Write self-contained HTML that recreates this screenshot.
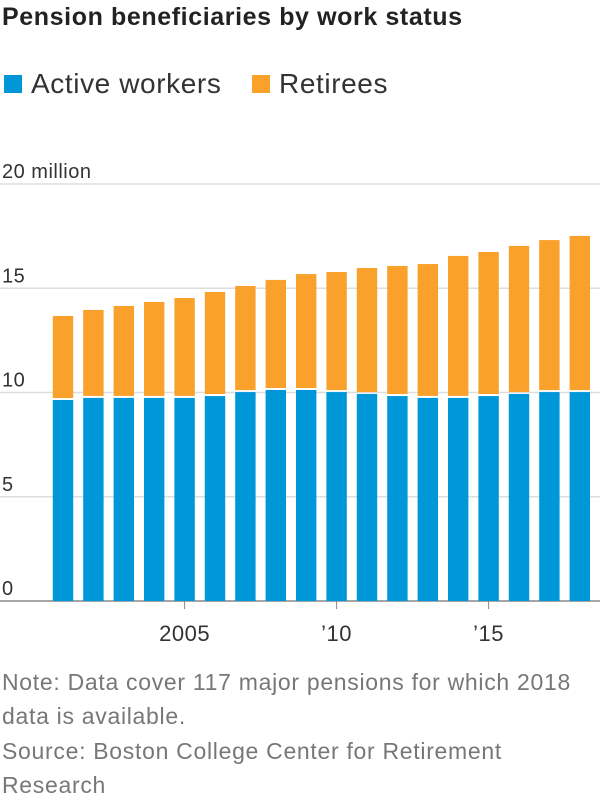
<!DOCTYPE html>
<html><head><meta charset="utf-8">
<style>
body{margin:0;width:600px;height:800px;background:#fff;font-family:"Liberation Sans",sans-serif;overflow:hidden}
.t{position:absolute;left:2px;top:3px;font-size:25px;font-weight:bold;color:#222;letter-spacing:0.6px}
.lg{position:absolute;top:68px;font-size:28px;color:#333;display:flex;align-items:center;letter-spacing:0.6px}
.sw{width:18px;height:18px;display:inline-block;margin-right:9px}
.note{position:absolute;left:2px;font-size:23px;color:#777;line-height:34px;letter-spacing:0.7px}
</style></head><body>
<div class="t">Pension beneficiaries by work status</div>
<div class="lg" style="left:4px"><span class="sw" style="background:#0097d9"></span>Active workers</div>
<div class="lg" style="left:252px"><span class="sw" style="background:#f9a12b"></span>Retirees</div>
<svg id="c" width="600" height="650" style="position:absolute;left:0;top:0"></svg>
<div class="note" style="top:665px">Note: Data cover 117 major pensions for which 2018<br>data is available.</div>
<div class="note" style="top:734px">Source: Boston College Center for Retirement<br>Research</div>
<script>
const years=[2001,2002,2003,2004,2005,2006,2007,2008,2009,2010,2011,2012,2013,2014,2015,2016,2017,2018];
const active=[9.64,9.74,9.74,9.74,9.74,9.83,10.02,10.12,10.12,10.02,9.93,9.83,9.74,9.74,9.83,9.93,10.02,10.02];
const total=[13.67,13.96,14.15,14.34,14.53,14.82,15.11,15.40,15.68,15.78,15.97,16.07,16.16,16.55,16.74,17.03,17.31,17.51];
const yTicks=[0,5,10,15,20];
const yTickLabels=['0','5','10','15','20 million'];
const xTicks=[2005,2010,2015];
const xTickLabels=['2005','\u201910','\u201915'];
const svg=document.getElementById('c');const NS='http://www.w3.org/2000/svg';
const y=v=>601-v*20.85;
const x=yr=>63+(yr-2001)*30.4;
function mk(t,a){const e=document.createElementNS(NS,t);for(const k in a)e.setAttribute(k,a[k]);svg.appendChild(e);return e;}
yTicks.forEach((v,i)=>{
  const l=mk('line',{x1:0,x2:600,y1:y(v),y2:y(v),stroke:v===0?'#888':'#ddd','stroke-width':1.5});
  
  
  const t=mk('text',{x:2,y:y(v)-6,'font-size':20,fill:'#333','letter-spacing':0.5,'font-family':'Liberation Sans, sans-serif'});
  t.textContent=yTickLabels[i];
  
  
});
years.forEach((yr,i)=>{
  const b=mk('rect',{x:x(yr)-10.2,width:20.4,y:y(active[i]),height:y(0)-y(active[i]),fill:'#0097d9'});
  
  
  const r=mk('rect',{x:x(yr)-10.2,width:20.4,y:y(total[i]),height:y(active[i])-y(total[i])-2,fill:'#f9a12b'});
  
  
});
xTicks.forEach((yr,i)=>{
  const tk=mk('line',{x1:x(yr),x2:x(yr),y1:y(0),y2:y(0)+8,stroke:'#888','stroke-width':1});
  
  
  const t=mk('text',{x:x(yr),y:641,'font-size':22,fill:'#333','text-anchor':'middle','letter-spacing':0.5,'font-family':'Liberation Sans, sans-serif'});
  t.textContent=xTickLabels[i];
  
  
});
</script>
</body></html>
